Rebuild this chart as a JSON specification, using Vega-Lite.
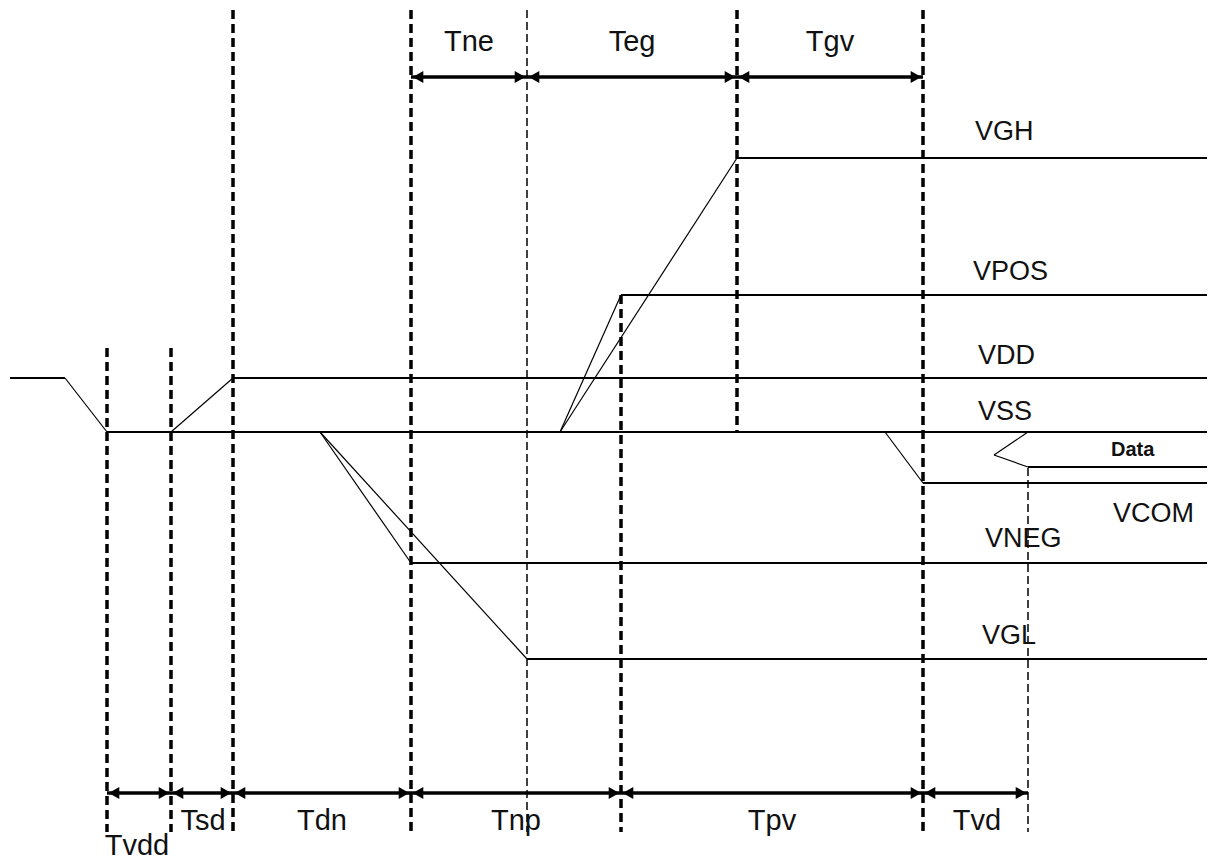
{
  "$schema": "https://vega.github.io/schema/vega-lite/v6.json",
  "width": 1215,
  "height": 861,
  "padding": 0,
  "autosize": "none",
  "background": "white",
  "config": {"view": {"stroke": null}, "axis": {"disable": true}},
  "datasets": {
    "signals": [
      {"signal": "start", "kind": "level", "x": 10, "y": 378, "x2": 65, "y2": 378},
      {"signal": "start", "kind": "ramp", "x": 65, "y": 378, "x2": 107, "y2": 432},
      {"signal": "VSS", "kind": "level", "x": 107, "y": 432, "x2": 1207, "y2": 432},
      {"signal": "VDD", "kind": "ramp", "x": 171, "y": 432, "x2": 233, "y2": 378},
      {"signal": "VDD", "kind": "level", "x": 233, "y": 378, "x2": 1207, "y2": 378},
      {"signal": "VNEG", "kind": "ramp", "x": 320, "y": 432, "x2": 411, "y2": 563},
      {"signal": "VNEG", "kind": "level", "x": 411, "y": 563, "x2": 1207, "y2": 563},
      {"signal": "VGL", "kind": "ramp", "x": 320, "y": 432, "x2": 527, "y2": 659},
      {"signal": "VGL", "kind": "level", "x": 527, "y": 659, "x2": 1207, "y2": 659},
      {"signal": "VPOS", "kind": "ramp", "x": 560, "y": 432, "x2": 621, "y2": 295},
      {"signal": "VPOS", "kind": "level", "x": 621, "y": 295, "x2": 1207, "y2": 295},
      {"signal": "VGH", "kind": "ramp", "x": 560, "y": 432, "x2": 737, "y2": 158},
      {"signal": "VGH", "kind": "level", "x": 737, "y": 158, "x2": 1207, "y2": 158},
      {"signal": "VCOM", "kind": "ramp", "x": 885, "y": 432, "x2": 923, "y2": 483},
      {"signal": "VCOM", "kind": "level", "x": 923, "y": 483, "x2": 1207, "y2": 483},
      {"signal": "Data", "kind": "ramp", "x": 1028, "y": 432, "x2": 994, "y2": 455},
      {"signal": "Data", "kind": "ramp", "x": 994, "y": 455, "x2": 1028, "y2": 467},
      {"signal": "Data", "kind": "level", "x": 1028, "y": 467, "x2": 1207, "y2": 467}
    ],
    "markers": [
      {"x": 107, "y": 348, "y2": 832, "weight": "major"},
      {"x": 171, "y": 348, "y2": 832, "weight": "major"},
      {"x": 233, "y": 10, "y2": 832, "weight": "major"},
      {"x": 411, "y": 10, "y2": 832, "weight": "major"},
      {"x": 527, "y": 10, "y2": 832, "weight": "minor"},
      {"x": 621, "y": 295, "y2": 832, "weight": "major"},
      {"x": 737, "y": 10, "y2": 432, "weight": "major"},
      {"x": 923, "y": 10, "y2": 832, "weight": "major"},
      {"x": 1028, "y": 468, "y2": 832, "weight": "minor"}
    ],
    "spans": [
      {"name": "Tne", "x": 411, "x2": 527, "y": 77},
      {"name": "Teg", "x": 527, "x2": 737, "y": 77},
      {"name": "Tgv", "x": 737, "x2": 923, "y": 77},
      {"name": "Tvdd", "x": 107, "x2": 171, "y": 793},
      {"name": "Tsd", "x": 171, "x2": 233, "y": 793},
      {"name": "Tdn", "x": 233, "x2": 411, "y": 793},
      {"name": "Tnp", "x": 411, "x2": 621, "y": 793},
      {"name": "Tpv", "x": 621, "x2": 923, "y": 793},
      {"name": "Tvd", "x": 923, "x2": 1028, "y": 793}
    ],
    "timeLabels": [
      {"text": "Tne", "x": 469, "y": 51},
      {"text": "Teg", "x": 632, "y": 51},
      {"text": "Tgv", "x": 830, "y": 51},
      {"text": "Tvdd", "x": 137, "y": 855},
      {"text": "Tsd", "x": 203, "y": 830},
      {"text": "Tdn", "x": 322, "y": 830},
      {"text": "Tnp", "x": 516, "y": 830},
      {"text": "Tpv", "x": 772, "y": 830},
      {"text": "Tvd", "x": 977, "y": 830}
    ],
    "signalLabels": [
      {"text": "VGH", "x": 975, "y": 140},
      {"text": "VPOS", "x": 973, "y": 280},
      {"text": "VDD", "x": 978, "y": 364},
      {"text": "VSS", "x": 978, "y": 420},
      {"text": "VCOM", "x": 1113, "y": 522},
      {"text": "VNEG", "x": 985, "y": 547},
      {"text": "VGL", "x": 982, "y": 644}
    ],
    "dataLabel": [
      {"text": "Data", "x": 1111, "y": 456}
    ]
  },
  "layer": [
    {
      "data": {"name": "markers"},
      "transform": [{"filter": "datum.weight === 'major'"}],
      "mark": {"type": "rule", "color": "black", "strokeWidth": 3.5, "strokeDash": [9, 5]},
      "encoding": {
        "x": {"field": "x", "type": "quantitative", "scale": {"domain": [0, 1215]}},
        "y": {"field": "y", "type": "quantitative", "scale": {"domain": [0, 861], "reverse": true}},
        "y2": {"field": "y2"}
      }
    },
    {
      "data": {"name": "markers"},
      "transform": [{"filter": "datum.weight === 'minor'"}],
      "mark": {"type": "rule", "color": "black", "strokeWidth": 1.5, "strokeDash": [8, 4]},
      "encoding": {
        "x": {"field": "x", "type": "quantitative", "scale": {"domain": [0, 1215]}},
        "y": {"field": "y", "type": "quantitative", "scale": {"domain": [0, 861], "reverse": true}},
        "y2": {"field": "y2"}
      }
    },
    {
      "data": {"name": "signals"},
      "transform": [{"filter": "datum.kind === 'level'"}],
      "mark": {"type": "rule", "color": "black", "strokeWidth": 2},
      "encoding": {
        "x": {"field": "x", "type": "quantitative", "scale": {"domain": [0, 1215]}},
        "y": {"field": "y", "type": "quantitative", "scale": {"domain": [0, 861], "reverse": true}},
        "x2": {"field": "x2"},
        "y2": {"field": "y2"}
      }
    },
    {
      "data": {"name": "signals"},
      "transform": [{"filter": "datum.kind === 'ramp'"}],
      "mark": {"type": "rule", "color": "black", "strokeWidth": 1.2},
      "encoding": {
        "x": {"field": "x", "type": "quantitative", "scale": {"domain": [0, 1215]}},
        "y": {"field": "y", "type": "quantitative", "scale": {"domain": [0, 861], "reverse": true}},
        "x2": {"field": "x2"},
        "y2": {"field": "y2"}
      }
    },
    {
      "data": {"name": "spans"},
      "mark": {"type": "rule", "color": "black", "strokeWidth": 3.5},
      "encoding": {
        "x": {"field": "x", "type": "quantitative", "scale": {"domain": [0, 1215]}},
        "x2": {"field": "x2"},
        "y": {"field": "y", "type": "quantitative", "scale": {"domain": [0, 861], "reverse": true}}
      }
    },
    {
      "data": {"name": "spans"},
      "mark": {"type": "point", "shape": "triangle-left", "filled": true, "color": "black", "opacity": 1, "size": 150, "xOffset": 7},
      "encoding": {
        "x": {"field": "x", "type": "quantitative", "scale": {"domain": [0, 1215]}},
        "y": {"field": "y", "type": "quantitative", "scale": {"domain": [0, 861], "reverse": true}}
      }
    },
    {
      "data": {"name": "spans"},
      "mark": {"type": "point", "shape": "triangle-right", "filled": true, "color": "black", "opacity": 1, "size": 150, "xOffset": -7},
      "encoding": {
        "x": {"field": "x2", "type": "quantitative", "scale": {"domain": [0, 1215]}},
        "y": {"field": "y", "type": "quantitative", "scale": {"domain": [0, 861], "reverse": true}}
      }
    },
    {
      "data": {"name": "timeLabels"},
      "mark": {"type": "text", "font": "Liberation Sans", "fontSize": 29, "align": "center", "baseline": "alphabetic", "color": "#111"},
      "encoding": {
        "x": {"field": "x", "type": "quantitative", "scale": {"domain": [0, 1215]}},
        "y": {"field": "y", "type": "quantitative", "scale": {"domain": [0, 861], "reverse": true}},
        "text": {"field": "text"}
      }
    },
    {
      "data": {"name": "signalLabels"},
      "mark": {"type": "text", "font": "Liberation Sans", "fontSize": 27, "align": "left", "baseline": "alphabetic", "color": "#111"},
      "encoding": {
        "x": {"field": "x", "type": "quantitative", "scale": {"domain": [0, 1215]}},
        "y": {"field": "y", "type": "quantitative", "scale": {"domain": [0, 861], "reverse": true}},
        "text": {"field": "text"}
      }
    },
    {
      "data": {"name": "dataLabel"},
      "mark": {"type": "text", "font": "Liberation Sans", "fontSize": 20, "fontWeight": "bold", "align": "left", "baseline": "alphabetic", "color": "#111"},
      "encoding": {
        "x": {"field": "x", "type": "quantitative", "scale": {"domain": [0, 1215]}},
        "y": {"field": "y", "type": "quantitative", "scale": {"domain": [0, 861], "reverse": true}},
        "text": {"field": "text"}
      }
    }
  ]
}
